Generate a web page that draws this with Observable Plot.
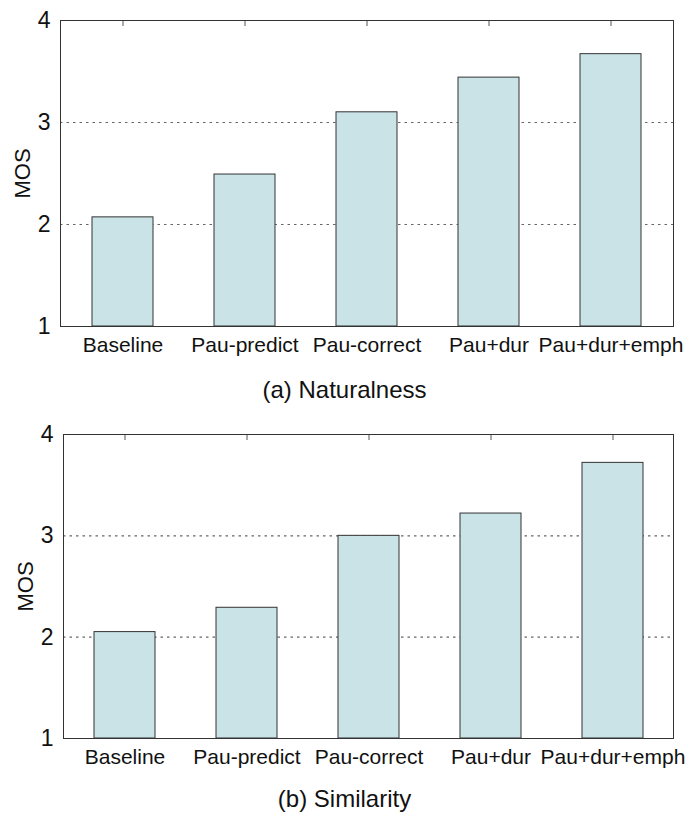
<!DOCTYPE html>
<html>
<head>
<meta charset="utf-8">
<script src="https://cdn.jsdelivr.net/npm/d3@7"></script>
<script src="https://cdn.jsdelivr.net/npm/@observablehq/plot@0.6"></script>
<style>
  html, body { margin: 0; padding: 0; background: #fff; }
  #wrap { width: 689px; }
  .cap { width: 689px; text-align: center; font-family: "Liberation Sans", Arial, sans-serif; font-size: 24px; color: #111; }
</style>
</head>
<body>
<div id="wrap"></div>
<script>
const categories = ["Baseline", "Pau-predict", "Pau-correct", "Pau+dur", "Pau+dur+emph"];
const naturalness = [2.07, 2.49, 3.10, 3.44, 3.67];
const similarity = [2.05, 2.29, 3.00, 3.22, 3.72];
const yTicks = [1, 2, 3, 4];
const gridValues = [2, 3];
const captions = ["(a) Naturalness", "(b) Similarity"];

function panel(values, opts) {
  const data = categories.map((c, i) => ({cat: c, v: values[i]}));
  return Plot.plot({
    width: 689,
    height: opts.height,
    marginTop: opts.mt,
    marginBottom: opts.mb,
    marginLeft: opts.ml,
    marginRight: 16,
    style: {fontFamily: '"Liberation Sans", Arial, sans-serif', color: "#111", background: "#fff"},
    x: {domain: categories, paddingInner: 0.5, paddingOuter: 0.25, label: null},
    y: {domain: [1, 4], label: null},
    marks: [
      Plot.ruleY(gridValues, {stroke: "#666", strokeDasharray: "2.5,4", strokeWidth: 1.2}),
      Plot.barY(data, {x: "cat", y1: 1, y2: "v", fill: "#c9e3e6", stroke: "#333", strokeWidth: 1}),
      Plot.axisX({anchor: "top", tickSize: -5, tickFormat: () => "", stroke: "#555", label: null}),
      Plot.axisX({anchor: "bottom", tickSize: 0, tickPadding: 11, fontSize: 21, label: null}),
      Plot.axisY({ticks: yTicks, tickFormat: d3.format("d"), tickSize: 0, tickPadding: 10, fontSize: 23,
        label: "MOS", labelAnchor: "center", labelArrow: "none", labelOffset: 46}),
      Plot.frame({stroke: "#333", strokeWidth: 1})
    ]
  });
}

const wrap = document.getElementById("wrap");
const p1 = panel(naturalness, {height: 362, mt: 20, mb: 36, ml: 60});
wrap.appendChild(p1);
const c1 = document.createElement("div");
c1.className = "cap"; c1.style.height = "56px"; c1.style.lineHeight = "56px";
c1.textContent = captions[0];
wrap.appendChild(c1);
const p2 = panel(similarity, {height: 362, mt: 16, mb: 42, ml: 63});
wrap.appendChild(p2);
const c2 = document.createElement("div");
c2.className = "cap"; c2.style.height = "38px"; c2.style.lineHeight = "38px";
c2.textContent = captions[1];
wrap.appendChild(c2);
for (const s of document.querySelectorAll("svg")) s.style.display = "block";
for (const t of document.querySelectorAll("svg [aria-label='y-axis label'] text")) t.style.fontSize = "22px";
</script>
</body>
</html>
